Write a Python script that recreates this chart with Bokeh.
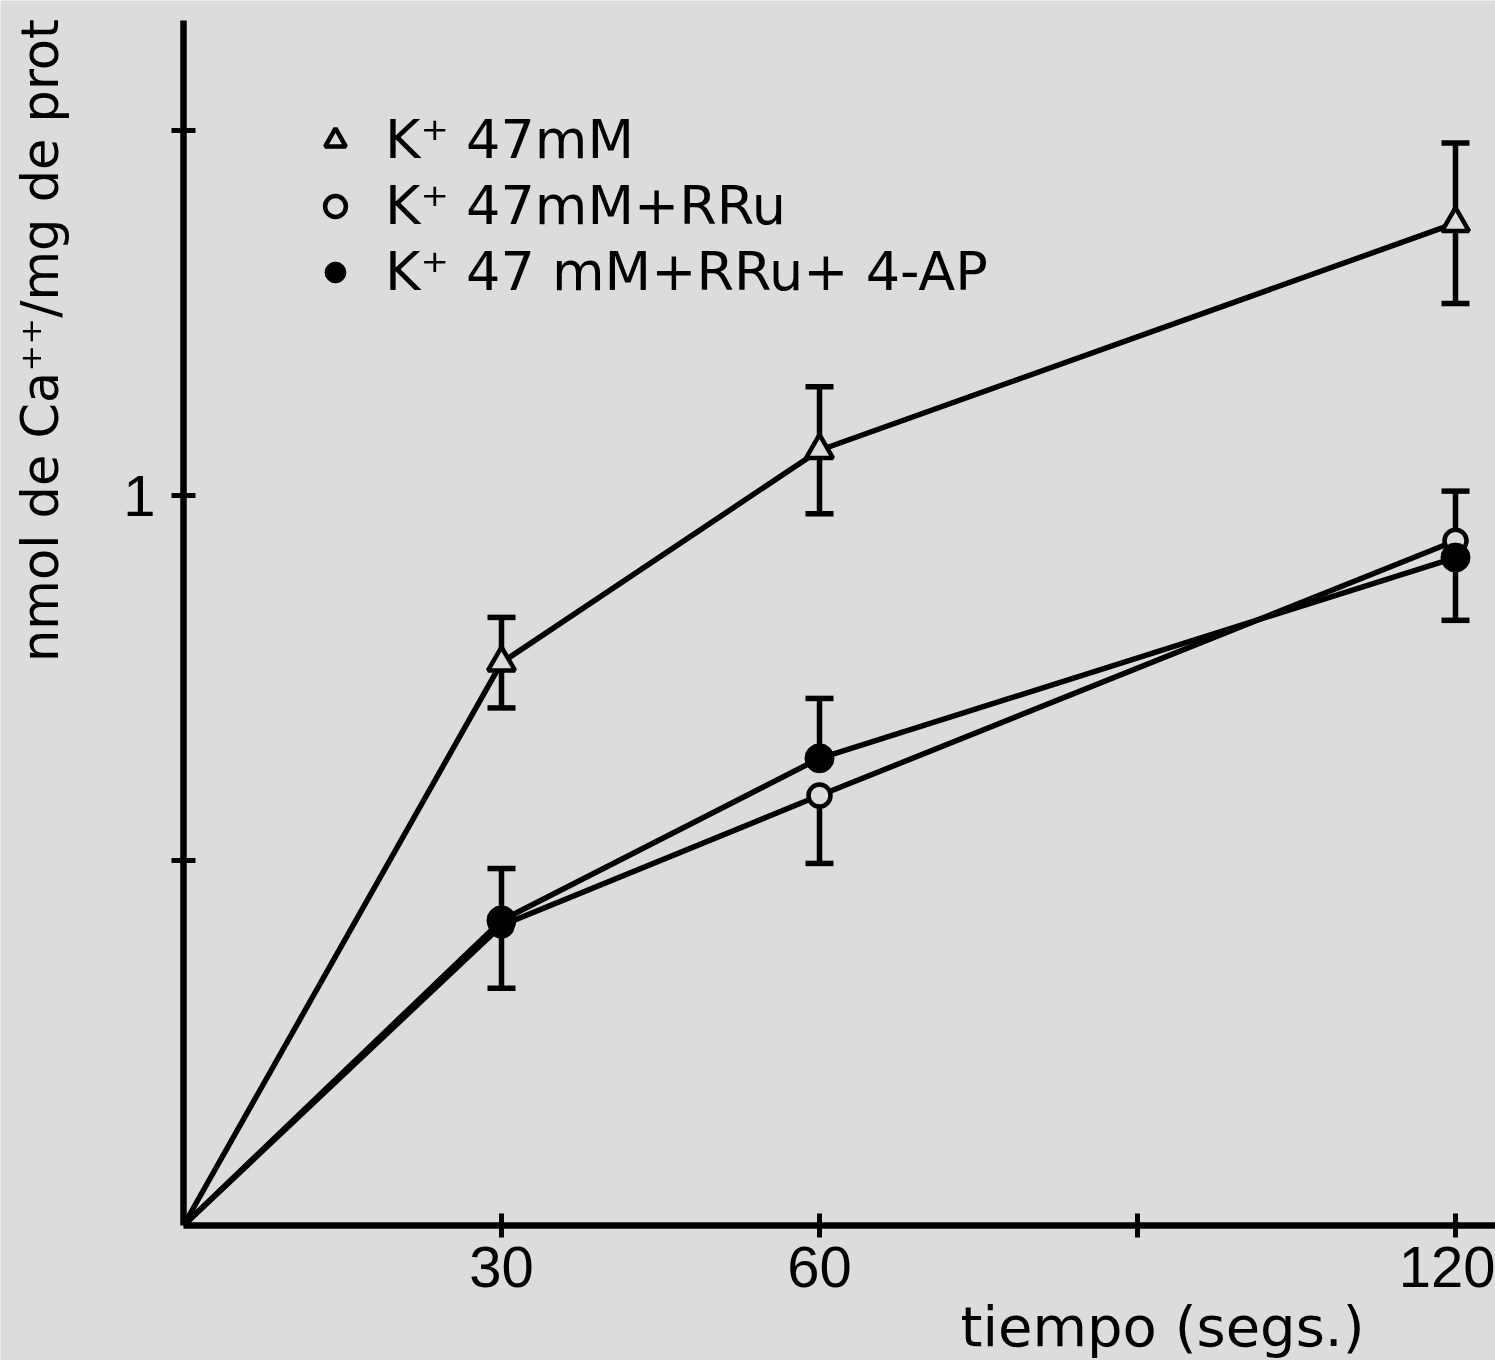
import math
from bokeh.plotting import figure
from bokeh.models import Range1d, FixedTicker, Label, Legend, LegendItem
from bokeh.embed import file_html
from bokeh.resources import INLINE

# ---- data ----
time_s = [0, 30, 60, 120]
k47 = [0.0, 0.771, 1.062, 1.373]
k47_sem = [0.0, 0.062, 0.087, 0.110]
k47_rru = [0.0, 0.411, 0.589, 0.938]
k47_rru_sem = [0.0, 0.086, 0.093, 0.068]
k47_rru_4ap = [0.0, 0.418, 0.640, 0.915]
k47_rru_4ap_sem = [0.0, 0.071, 0.082, 0.086]

x_ticks = [30, 60, 90, 120]
x_tick_labels = ["30", "60", "", "120"]
y_ticks = [0.5, 1.0, 1.5]
y_tick_labels = ["", "1", ""]

legend_labels = ["K\u207a 47mM", "K\u207a 47mM+RRu", "K\u207a 47 mM+RRu+ 4-AP"]
x_label = "tiempo (segs.)"
y_label = "nmol de Ca\u207a\u207a/mg de prot"

# ---- style / geometry ----
BG = "#dcdcdc"
INK = "black"
W, H = 1495, 1360
X0_PX, Y0_PX = 183, 1225          # where the origin sits on the page
PX_PER_S = 10.6
PX_PER_UNIT = 730.0
X_AXIS_END = (W - X0_PX) / PX_PER_S
Y_AXIS_END = (Y0_PX - 20) / PX_PER_UNIT
LW = 5.5

p = figure(width=W, height=H, output_backend="svg", toolbar_location=None, title=None,
           x_range=Range1d(-X0_PX / PX_PER_S, (W - X0_PX) / PX_PER_S),
           y_range=Range1d(-(H - Y0_PX) / PX_PER_UNIT, Y0_PX / PX_PER_UNIT),
           min_border=0, min_border_left=0, min_border_right=0,
           min_border_top=0, min_border_bottom=0,
           background_fill_color=BG, border_fill_color=BG, outline_line_color=None)
p.grid.visible = False

for ax in (p.xaxis[0], p.yaxis[0]):
    ax.fixed_location = 0
    ax.axis_line_width = 6.5
    ax.axis_line_color = INK
    ax.major_tick_line_width = 5
    ax.major_tick_line_color = INK
    ax.major_tick_in = 12
    ax.major_tick_out = 12
    ax.minor_tick_line_color = None
    ax.major_label_text_color = INK
    ax.major_label_text_font = "Liberation Sans"
    ax.major_label_text_font_size = "58px"

p.xaxis.bounds = (0, X_AXIS_END)
p.yaxis.bounds = (0, Y_AXIS_END)
p.xaxis.ticker = FixedTicker(ticks=x_ticks)
p.xaxis.major_label_overrides = dict(zip(x_ticks, x_tick_labels))
p.xaxis.major_label_standoff = 9
p.yaxis.ticker = FixedTicker(ticks=y_ticks)
p.yaxis.major_label_overrides = dict(zip(y_ticks, y_tick_labels))
p.yaxis.major_label_standoff = 16

# ---- lines ----
for ys in (k47, k47_rru, k47_rru_4ap):
    p.line(time_s, ys, line_width=LW, line_color=INK)

# ---- error bars ----
xs = time_s[1:]
# triangles: both sides
t_lo = [y - s for y, s in zip(k47[1:], k47_sem[1:])]
t_hi = [y + s for y, s in zip(k47[1:], k47_sem[1:])]
p.segment(xs, t_lo, xs, t_hi, line_width=LW, line_color=INK)
p.scatter(xs + xs, t_lo + t_hi, marker="dash", size=28, line_width=LW, line_color=INK)

# circles: only the outer side of each overlapping pair is drawn
seg_y0, seg_y1, cap_x, cap_y, seg_x = [], [], [], [], []
for x, a, sa, b, sb in zip(xs, k47_rru[1:], k47_rru_sem[1:], k47_rru_4ap[1:], k47_rru_4ap_sem[1:]):
    if a >= b:
        ends = [(a, a + sa), (b, b - sb)]
    else:
        ends = [(a, a - sa), (b, b + sb)]
    for y, e in ends:
        seg_x.append(x); seg_y0.append(y); seg_y1.append(e)
        cap_x.append(x); cap_y.append(e)
p.segment(seg_x, seg_y0, seg_x, seg_y1, line_width=LW, line_color=INK)
p.scatter(cap_x, cap_y, marker="dash", size=28, line_width=LW, line_color=INK)

# ---- markers ----
r_tri = p.scatter(xs, k47[1:], marker="triangle", size=27, line_width=4.5,
                  line_color=INK, fill_color=BG)
r_open = p.scatter(xs, k47_rru[1:], marker="circle", size=22, line_width=4.5,
                   line_color=INK, fill_color=BG)
r_fill = p.scatter(xs, k47_rru_4ap[1:], marker="circle", size=29, line_width=1,
                   line_color=INK, fill_color=INK)

legend = Legend(items=[LegendItem(label=legend_labels[0], renderers=[r_tri]),
                       LegendItem(label=legend_labels[1], renderers=[r_open]),
                       LegendItem(label=legend_labels[2], renderers=[r_fill])],
                location=(309, 1057), glyph_width=52, glyph_height=52, label_standoff=24,
                label_text_font="DejaVu Sans", label_text_font_size="54px",
                label_text_color=INK, spacing=3, padding=0, margin=0,
                border_line_color=None, background_fill_alpha=0)
p.add_layout(legend)

# ---- axis titles ----
p.add_layout(Label(x=(1162 - X0_PX) / PX_PER_S, y=-(1326 - Y0_PX) / PX_PER_UNIT, text=x_label,
                   text_font="DejaVu Sans", text_font_size="56px", text_color=INK,
                   text_align="center", text_baseline="alphabetic"))
p.add_layout(Label(x=(40 - X0_PX) / PX_PER_S, y=(Y0_PX - 340) / PX_PER_UNIT, text=y_label,
                   angle=math.pi / 2, text_font="DejaVu Sans", text_font_size="51px",
                   text_color=INK, text_align="center", text_baseline="alphabetic"))

open("out.html", "w").write(file_html(p, INLINE))
